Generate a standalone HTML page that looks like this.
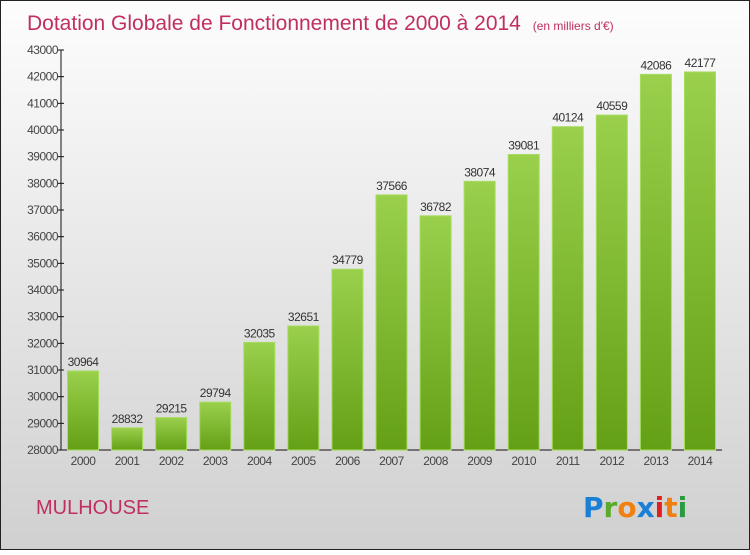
<!DOCTYPE html>
<html><head><meta charset="utf-8"><style>
body{margin:0;width:750px;height:550px;overflow:hidden;font-family:"Liberation Sans",sans-serif}
</style></head><body>
<svg width="750" height="550" xmlns="http://www.w3.org/2000/svg">
<defs>
<linearGradient id="bg" x1="0" y1="0" x2="0" y2="1"><stop offset="0" stop-color="#fdfdfd"/><stop offset="1" stop-color="#d0d0d0"/></linearGradient>
<linearGradient id="bar" x1="0" y1="0" x2="0" y2="1"><stop offset="0" stop-color="#9ad04c"/><stop offset="1" stop-color="#64a016"/></linearGradient>
</defs>
<rect x="0.5" y="0.5" width="749" height="549" fill="url(#bg)" stroke="#222"/>
<text x="27" y="30" font-size="21" fill="#c0305e">Dotation Globale de Fonctionnement de 2000 à 2014 <tspan font-size="12" dx="6">(en milliers d'€)</tspan></text>
<g id="yaxis"></g>
<g id="bars"></g>
<text x="36" y="514" font-size="20" fill="#c0305e">MULHOUSE</text>
<g font-size="28" font-weight="bold" font-family="'DejaVu Sans',sans-serif">
<text x="583" y="517"><tspan fill="#1a7fd6">P</tspan><tspan fill="#5aab2a">r</tspan><tspan fill="#f08010">o</tspan><tspan fill="#1a7fd6">x</tspan><tspan fill="#e02020">i</tspan><tspan fill="#f08010">t</tspan><tspan fill="#2a9a40">i</tspan></text>
</g>
</svg>
<script>
const categories=["2000","2001","2002","2003","2004","2005","2006","2007","2008","2009","2010","2011","2012","2013","2014"];
const values=[30964,28832,29215,29794,32035,32651,34779,37566,36782,38074,39081,40124,40559,42086,42177];
const yTicks=[28000,29000,30000,31000,32000,33000,34000,35000,36000,37000,38000,39000,40000,41000,42000,43000];
const NS="http://www.w3.org/2000/svg";
const x0=61,x1=722,yTop=50,yBot=450,yMin=28000,yMax=43000;
const y=v=>yBot-(v-yMin)/(yMax-yMin)*(yBot-yTop);
const step=(x1-x0)/categories.length;
const xc=i=>x0+step*(i+0.5);
function mk(t,a,p){const e=document.createElementNS(NS,t);for(const k in a)e.setAttribute(k,a[k]);p.appendChild(e);return e;}
const ya=document.getElementById('yaxis'),bg=document.getElementById('bars');
let l=mk('line',{x1:x0,y1:yTop,x2:x0,y2:yBot,stroke:'#111'},ya);


l=mk('line',{x1:x0,y1:yBot,x2:x1,y2:yBot,stroke:'#111'},ya);


yTicks.forEach(v=>{
 const t=mk('line',{x1:x0-3,y1:y(v),x2:x0+3,y2:y(v),stroke:'#111'},ya);
 
 
 const tx=mk('text',{x:x0-3,y:y(v)+4,'text-anchor':'end','font-size':12,fill:'#444','letter-spacing':'-0.5'},ya);
 tx.textContent=v;
 
 
});
categories.forEach((c,i)=>{
 const w=31,cx=xc(i);
 const r=mk('rect',{x:cx-w/2,y:y(values[i]),width:w,height:yBot-y(values[i]),fill:'url(#bar)',stroke:'#a8dc60','stroke-width':1},bg);
 
 
 const vt=mk('text',{x:cx,y:y(values[i])-5,'text-anchor':'middle','font-size':12,fill:'#333','letter-spacing':'-0.5'},bg);
 vt.textContent=values[i];
 
 
 const xt=mk('text',{x:cx,y:yBot+15,'text-anchor':'middle','font-size':12,fill:'#444','letter-spacing':'-0.5'},bg);
 xt.textContent=c;
 
 
});
</script>
</body></html>
